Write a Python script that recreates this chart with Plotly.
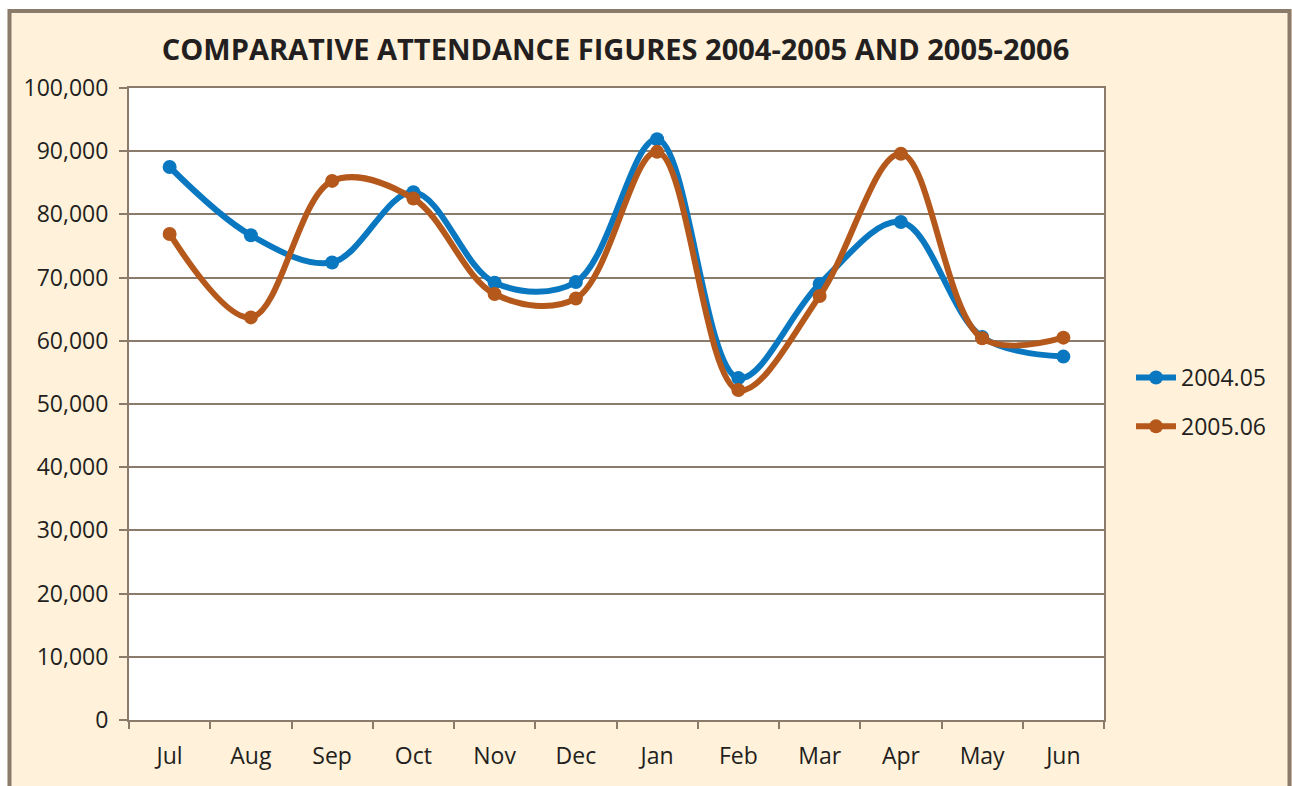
import plotly.graph_objects as go

months = ["Jul", "Aug", "Sep", "Oct", "Nov", "Dec", "Jan", "Feb", "Mar", "Apr", "May", "Jun"]
s2004_05 = [87500, 76700, 72400, 83500, 69200, 69300, 91900, 54100, 69000, 78800, 60600, 57500]
s2005_06 = [76900, 63700, 85300, 82500, 67400, 66700, 89900, 52200, 67100, 89600, 60400, 60500]
series_names = ["2004.05", "2005.06"]
series_colors = ["#0A78C0", "#B5581B"]
title_text = "COMPARATIVE ATTENDANCE FIGURES 2004-2005 AND 2005-2006"

W, H = 1292, 786
L, R, T, B = 129, 1104, 88, 720
border = "#8B7B6B"
cream = "#FFF1DA"

def px_x(px):
    return (px - L) / (R - L)

def px_y(py):
    return (B - py) / (B - T)

fig = go.Figure()
for name, vals, col in zip(series_names, [s2004_05, s2005_06], series_colors):
    fig.add_trace(go.Scatter(
        x=months, y=vals, name=name, mode="lines+markers", legendgroup=name,
        line=dict(color=col, width=6, shape="spline", smoothing=1.0),
        marker=dict(color=col, size=14),
    ))

fig.update_layout(
    width=W, height=H,
    margin=dict(l=L, r=W - R, t=T, b=H - B),
    paper_bgcolor=cream,
    plot_bgcolor="white",
    font=dict(family="Open Sans", size=23, color="#231F20"),
    title=dict(text="<b>" + title_text + "</b>", x=(155 + 1076) / 2 / W, xanchor="center",
               y=1 - 50 / H, yanchor="middle",
               font=dict(family="Open Sans", size=29, color="#231F20")),
    showlegend=True,
    legend=dict(x=px_x(1131), y=px_y(356), xanchor="left", yanchor="top",
                bgcolor="rgba(0,0,0,0)", font=dict(size=23), itemwidth=40,
                tracegroupgap=16),
    shapes=[
        dict(type="rect", xref="paper", yref="paper", x0=px_x(-5), x1=px_x(W + 5),
             y0=px_y(0), y1=px_y(9), fillcolor="white", line=dict(width=0), layer="below"),
        dict(type="rect", xref="paper", yref="paper", x0=px_x(-5), x1=px_x(7.5),
             y0=px_y(H + 5), y1=px_y(0), fillcolor="white", line=dict(width=0), layer="below"),
        dict(type="rect", xref="paper", yref="paper", x0=px_x(9.5), x1=px_x(1289.5),
             y0=px_y(H + 20), y1=px_y(11), fillcolor="rgba(0,0,0,0)",
             line=dict(color=border, width=4), layer="below"),
    ],
)
fig.update_xaxes(
    showline=True, linecolor=border, linewidth=2, mirror=True,
    ticks="outside", ticklen=7, tickwidth=2, tickcolor=border,
    tickson="boundaries", showgrid=False, ticklabelstandoff=14,
    range=[-0.5, 11.5],
)
fig.update_yaxes(
    range=[0, 100000], dtick=10000, tickformat=",",
    showline=True, linecolor=border, linewidth=2, mirror=True,
    ticks="outside", ticklen=8, tickwidth=2, tickcolor=border,
    showgrid=True, gridcolor=border, gridwidth=2, zeroline=False,
    ticklabelstandoff=6,
)

fig.write_html("out.html", config={"displayModeBar": False},
               post_script="document.body.style.margin='0px';")
